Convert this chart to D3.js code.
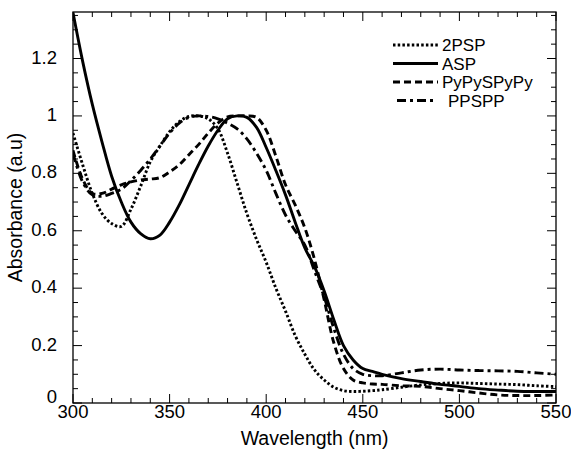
<!DOCTYPE html>
<html>
<head>
<meta charset="utf-8">
<script src="https://cdn.jsdelivr.net/npm/d3@7"></script>
<style>
  body { margin: 0; background: #fff; }
  text { font-family: "Liberation Sans", Arial, Helvetica, sans-serif; fill: #000; }
</style>
</head>
<body>
<div id="chart"></div>
<script>
// wavelength grid (nm) shared by all series
const wavelengths = [300, 305, 310, 315, 320, 325, 330, 335, 340, 345, 350, 355, 360, 365, 370, 375, 380, 385, 390, 395,
  400, 405, 410, 415, 420, 425, 430, 435, 440, 445, 450, 455, 460, 470, 480, 490, 500, 510, 520, 530, 540, 550]

const seriesNames = ["2PSP", "ASP", "PyPySPyPy", "PPSPP"]

// values
const psp2 = [0.94, 0.83, 0.73, 0.66, 0.625, 0.615, 0.675, 0.755, 0.84, 0.895, 0.945, 0.98, 0.998, 1.0, 0.99, 0.955, 0.87, 0.765,
  0.66, 0.57, 0.49, 0.4, 0.32, 0.235, 0.17, 0.115, 0.08, 0.055, 0.043, 0.04, 0.041, 0.043, 0.046, 0.055, 0.063, 0.068, 0.07,
  0.068, 0.066, 0.064, 0.06, 0.057]
const asp = [1.36, 1.19, 1.04, 0.91, 0.79, 0.7, 0.63, 0.59, 0.572, 0.585, 0.63, 0.69, 0.76, 0.83, 0.895, 0.95, 0.99, 1.0,
  0.995, 0.96, 0.89, 0.81, 0.725, 0.63, 0.54, 0.475, 0.39, 0.29, 0.2, 0.15, 0.12, 0.11, 0.1, 0.085, 0.075, 0.065, 0.058,
  0.05, 0.045, 0.041, 0.04, 0.04]
const pypy = [0.88, 0.78, 0.73, 0.73, 0.745, 0.76, 0.77, 0.777, 0.78, 0.785, 0.805, 0.83, 0.865, 0.9, 0.94, 0.975, 0.997, 1.0,
  1.0, 0.995, 0.95, 0.86, 0.76, 0.69, 0.61, 0.5, 0.36, 0.21, 0.12, 0.08, 0.07, 0.066, 0.065, 0.06, 0.058, 0.05, 0.043,
  0.035, 0.028, 0.026, 0.026, 0.028]
const ppspp = [0.87, 0.77, 0.725, 0.72, 0.73, 0.745, 0.775, 0.81, 0.85, 0.895, 0.94, 0.975, 0.995, 1.0, 0.998, 0.99, 0.975, 0.955,
  0.92, 0.87, 0.81, 0.73, 0.655, 0.6, 0.55, 0.46, 0.37, 0.26, 0.17, 0.12, 0.1, 0.095, 0.095, 0.105, 0.115, 0.118, 0.115,
  0.113, 0.112, 0.11, 0.105, 0.1]

const xTickLabels = [300, 350, 400, 450, 500, 550]
const yTickLabels = [0, 0.2, 0.4, 0.6, 0.8, 1, 1.2]

const width = 571
const height = 450
const margin = { left: 73, right: 15, top: 12, bottom: 47 }

const dashes = ["2.5,2.2", null, "7,4", "9,4,3,4"]

const svg = d3.select("#chart")
  .append("svg")
  .attr("width", width)
  .attr("height", height)

const x = d3.scaleLinear().domain([300, 550]).range([margin.left, width - margin.right])
const y = d3.scaleLinear().domain([0, 1.362]).range([height - margin.bottom, margin.top])

const x0 = x.range()[0], x1 = x.range()[1]
const y0 = y.range()[0], y1 = y.range()[1]

svg.append("clipPath").attr("id", "plot")
  .append("rect")
  .attr("x", x0).attr("y", y1)
  .attr("width", x1 - x0).attr("height", y0 - y1)

// ticks on all four sides, pointing inward
const xMinor = d3.range(300, 551, 10)
const yMinor = d3.range(0, 1.36, 0.05)

xMinor.forEach(v => {
  const len = v % 50 === 0 ? 9 : 5
  svg.append("line").attr("x1", x(v)).attr("x2", x(v)).attr("y1", y0).attr("y2", y0 - len)
    .attr("stroke", "#000").attr("stroke-width", 1)
  svg.append("line").attr("x1", x(v)).attr("x2", x(v)).attr("y1", y1).attr("y2", y1 + len)
    .attr("stroke", "#000").attr("stroke-width", 1)
})
yMinor.forEach((v, i) => {
  const len = i % 4 === 0 ? 9 : 5
  svg.append("line").attr("x1", x0).attr("x2", x0 + len).attr("y1", y(v)).attr("y2", y(v))
    .attr("stroke", "#000").attr("stroke-width", 1)
  svg.append("line").attr("x1", x1).attr("x2", x1 - len).attr("y1", y(v)).attr("y2", y(v))
    .attr("stroke", "#000").attr("stroke-width", 1)
})

svg.append("rect")
  .attr("x", x0).attr("y", y1)
  .attr("width", x1 - x0).attr("height", y0 - y1)
  .attr("fill", "none").attr("stroke", "#000").attr("stroke-width", 1.3)

// tick labels
xTickLabels.forEach(v => {
  svg.append("text").attr("x", x(v)).attr("y", 418)
    .attr("text-anchor", "middle").style("font-size", "18.5px").text(v)
})
yTickLabels.forEach(v => {
  svg.append("text").attr("x", 57).attr("y", v === 0 ? y(v) : y(v) + 5)
    .attr("text-anchor", "end").style("font-size", "18.5px").text(v)
})

// axis titles
svg.append("text").attr("x", (x0 + x1) / 2).attr("y", 445)
  .attr("text-anchor", "middle").style("font-size", "19.5px").text("Wavelength (nm)")
svg.append("text")
  .attr("transform", `translate(22,${(y0 + y1) / 2}) rotate(-90)`)
  .attr("text-anchor", "middle").style("font-size", "19.5px").text("Absorbance (a.u)")

// curves
const line = d3.line()
  .x(d => x(d[0]))
  .y(d => y(d[1]))
  .curve(d3.curveCatmullRom.alpha(0.5))

const allSeries = [psp2, asp, pypy, ppspp]
const g = svg.append("g").attr("clip-path", "url(#plot)")
allSeries.forEach((vals, i) => {
  g.append("path")
    .datum(wavelengths.map((w, j) => [w, vals[j]]))
    .attr("d", line)
    .attr("fill", "none")
    .attr("stroke", "#000")
    .attr("stroke-width", 2.9)
    .attr("stroke-dasharray", dashes[i])
})

// legend
const legendY = [45, 63.5, 82, 100.5]
seriesNames.forEach((name, i) => {
  const lx1 = i === 3 ? 397 : 393
  const lx2 = i === 3 ? 435 : 438
  svg.append("line")
    .attr("x1", lx1).attr("x2", lx2)
    .attr("y1", legendY[i]).attr("y2", legendY[i])
    .attr("stroke", "#000").attr("stroke-width", 2.8)
    .attr("stroke-dasharray", dashes[i])
  svg.append("text")
    .attr("x", i === 3 ? 448 : 442).attr("y", legendY[i] + 6)
    .style("font-size", "17px")
    .text(name)
})
</script>
</body>
</html>
